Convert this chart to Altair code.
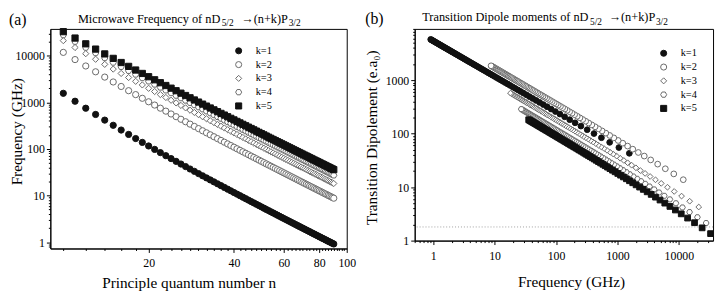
import altair as alt
import pandas as pd

SERIF = "Liberation Serif"

n_values = [10, 11, 12, 13, 14, 15, 16, 17, 18, 19, 20,
            21, 22, 23, 24, 25, 26, 27, 28, 29, 30,
            31, 32, 33, 34, 35, 36, 37, 38, 39, 40,
            41, 42, 43, 44, 45, 46, 47, 48, 49, 50,
            51, 52, 53, 54, 55, 56, 57, 58, 59, 60,
            61, 62, 63, 64, 65, 66, 67, 68, 69, 70,
            71, 72, 73, 74, 75, 76, 77, 78, 79, 80,
            81, 82, 83, 84, 85, 86, 87, 88, 89, 90]

freq_k1 = [1561, 1055, 747.1, 548.6, 414.9, 321.5, 254.2, 204.5, 167.0, 138.1, 115.6,
           97.68, 83.30, 71.62, 62.02, 54.07, 47.42, 41.82, 37.07, 33.01, 29.53,
           26.52, 23.90, 21.62, 19.62, 17.86, 16.30, 14.92, 13.69, 12.60, 11.61,
           10.73, 9.934, 9.215, 8.563, 7.972, 7.434, 6.944, 6.495, 6.084, 5.708,
           5.360, 5.041, 4.747, 4.475, 4.224, 3.992, 3.776, 3.575, 3.388, 3.214,
           3.052, 2.901, 2.759, 2.627, 2.503, 2.386, 2.277, 2.174, 2.077, 1.986,
           1.900, 1.820, 1.743, 1.671, 1.603, 1.538, 1.477, 1.419, 1.364, 1.312,
           1.262, 1.215, 1.171, 1.128, 1.088, 1.049, 1.012, 0.977, 0.944, 0.912]
freq_k2 = [11790, 8263, 6017, 4516, 3476, 2732, 2187, 1776, 1463, 1220, 1027,
           873.1, 748.4, 646.4, 562.1, 491.8, 432.8, 382.9, 340.4, 303.9, 272.5,
           245.2, 221.5, 200.7, 182.5, 166.4, 152.1, 139.4, 128.1, 118.0, 108.9,
           100.8, 93.39, 86.72, 80.67, 75.17, 70.16, 65.58, 61.39, 57.55, 54.03,
           50.79, 47.80, 45.04, 42.49, 40.13, 37.94, 35.91, 34.02, 32.26, 30.62,
           29.09, 27.66, 26.32, 25.07, 23.89, 22.79, 21.75, 20.78, 19.86, 19.00,
           18.18, 17.42, 16.69, 16.00, 15.35, 14.74, 14.16, 13.61, 13.08, 12.59,
           12.11, 11.67, 11.24, 10.83, 10.45, 10.08, 9.726, 9.390, 9.070, 8.764]
freq_k3 = [21050, 14995, 11061, 8394, 6520, 5166, 4163, 3404, 2819, 2361, 1997,
           1704, 1466, 1270, 1108, 971.8, 857.3, 760.1, 677.1, 605.7, 544.0,
           490.5, 443.7, 402.7, 366.6, 334.7, 306.4, 281.2, 258.7, 238.5, 220.4,
           204.0, 189.3, 175.9, 163.8, 152.7, 142.7, 133.5, 125.0, 117.3, 110.2,
           103.6, 97.58, 92.01, 86.85, 82.06, 77.62, 73.50, 69.67, 66.09, 62.76,
           59.64, 56.73, 54.01, 51.46, 49.06, 46.82, 44.70, 42.71, 40.84, 39.08,
           37.42, 35.85, 34.36, 32.96, 31.63, 30.38, 29.18, 28.05, 26.98, 25.96,
           24.99, 24.07, 23.20, 22.36, 21.57, 20.81, 20.09, 19.40, 18.74, 18.12]
freq_k4 = [27780, 20040, 14939, 11439, 8955, 7143, 5790, 4759, 3960, 3330, 2827,
           2421, 2089, 1815, 1587, 1396, 1234, 1097, 978.9, 877.3, 789.3,
           712.7, 645.7, 586.9, 535.0, 489.0, 448.2, 411.8, 379.2, 350.0, 323.7,
           299.9, 278.5, 259.1, 241.4, 225.2, 210.5, 197.1, 184.7, 173.4, 163.0,
           153.4, 144.6, 136.4, 128.8, 121.7, 115.2, 109.2, 103.5, 98.23, 93.31,
           88.72, 84.42, 80.40, 76.63, 73.09, 69.77, 66.64, 63.70, 60.93, 58.31,
           55.85, 53.52, 51.32, 49.24, 47.27, 45.40, 43.63, 41.95, 40.36, 38.84,
           37.40, 36.03, 34.73, 33.49, 32.31, 31.18, 30.10, 29.08, 28.10, 27.16]
freq_k5 = [32830, 23918, 17985, 13874, 10932, 8771, 7146, 5901, 4930, 4161, 3545,
           3045, 2635, 2295, 2012, 1773, 1571, 1399, 1251, 1123, 1012,
           914.7, 829.9, 755.2, 689.3, 630.8, 578.7, 532.3, 490.7, 453.2, 419.6,
           389.2, 361.6, 336.6, 313.9, 293.1, 274.2, 256.8, 240.9, 226.3, 212.8,
           200.4, 188.9, 178.3, 168.5, 159.3, 150.9, 143.0, 135.6, 128.8, 122.4,
           116.4, 110.8, 105.6, 100.7, 96.04, 91.70, 87.62, 83.78, 80.16, 76.75,
           73.52, 70.48, 67.59, 64.87, 62.29, 59.85, 57.53, 55.33, 53.24, 51.25,
           49.36, 47.57, 45.86, 44.23, 42.67, 41.19, 39.78, 38.43, 37.14, 35.91]

dip_k1 = [42.96, 55.13, 68.80, 84.00, 100.7, 118.9, 138.7, 159.9, 182.7, 206.9, 232.7,
          260.0, 288.8, 319.2, 351.0, 384.4, 419.2, 455.6, 493.5, 533.0, 573.9,
          616.3, 660.3, 705.8, 752.7, 801.2, 851.3, 902.8, 955.8, 1010, 1066,
          1124, 1183, 1244, 1306, 1370, 1435, 1501, 1570, 1639, 1710,
          1783, 1857, 1933, 2010, 2089, 2169, 2251, 2335, 2419, 2506,
          2594, 2683, 2774, 2866, 2960, 3056, 3153, 3251, 3351, 3453,
          3556, 3660, 3766, 3874, 3983, 4093, 4205, 4319, 4434, 4551,
          4669, 4788, 4910, 5032, 5157, 5282, 5409, 5538, 5668, 5800]
dip_k2 = [13.79, 17.70, 22.09, 26.96, 32.33, 38.17, 44.51, 51.33, 58.64, 66.43, 74.71,
          83.47, 92.72, 102.5, 112.7, 123.4, 134.6, 146.3, 158.4, 171.1, 184.2,
          197.8, 212.0, 226.6, 241.6, 257.2, 273.3, 289.8, 306.8, 324.3, 342.3,
          360.8, 379.8, 399.2, 419.2, 439.6, 460.5, 481.9, 503.8, 526.2, 549.0,
          572.4, 596.2, 620.5, 645.3, 670.6, 696.4, 722.7, 749.4, 776.6, 804.4,
          832.6, 861.3, 890.4, 920.1, 950.2, 980.9, 1012, 1044, 1076, 1108,
          1141, 1175, 1209, 1243, 1278, 1314, 1350, 1386, 1423, 1461,
          1499, 1537, 1576, 1615, 1655, 1696, 1736, 1778, 1820, 1862]
dip_k3 = [4.251, 5.455, 6.808, 8.311, 9.964, 11.77, 13.72, 15.82, 18.07, 20.47, 23.03,
          25.73, 28.58, 31.58, 34.73, 38.03, 41.48, 45.08, 48.83, 52.73, 56.78,
          60.98, 65.33, 69.83, 74.48, 79.28, 84.23, 89.32, 94.57, 99.97, 105.5,
          111.2, 117.1, 123.1, 129.2, 135.5, 142.0, 148.5, 155.3, 162.2, 169.2,
          176.4, 183.8, 191.3, 198.9, 206.7, 214.7, 222.7, 231.0, 239.4, 247.9,
          256.6, 265.5, 274.5, 283.6, 292.9, 302.3, 311.9, 321.7, 331.6, 341.6,
          351.8, 362.1, 372.6, 383.3, 394.1, 405.0, 416.1, 427.3, 438.7, 450.3,
          461.9, 473.8, 485.8, 497.9, 510.2, 522.6, 535.2, 548.0, 560.9, 573.9]
dip_k4 = [2.134, 2.738, 3.417, 4.172, 5.002, 5.907, 6.887, 7.942, 9.073, 10.28, 11.56,
          12.92, 14.35, 15.85, 17.43, 19.09, 20.82, 22.63, 24.51, 26.47, 28.50,
          30.61, 32.80, 35.05, 37.39, 39.80, 42.28, 44.84, 47.48, 50.18, 52.97,
          55.83, 58.77, 61.78, 64.86, 68.02, 71.26, 74.57, 77.96, 81.42, 84.96,
          88.57, 92.26, 96.02, 99.86, 103.8, 107.8, 111.8, 116.0, 120.2, 124.5,
          128.8, 133.3, 137.8, 142.4, 147.0, 151.8, 156.6, 161.5, 166.4, 171.5,
          176.6, 181.8, 187.1, 192.4, 197.8, 203.3, 208.9, 214.5, 220.2, 226.0,
          231.9, 237.8, 243.9, 250.0, 256.1, 262.4, 268.7, 275.1, 281.6, 288.1]
dip_k5 = [1.351, 1.733, 2.163, 2.641, 3.166, 3.739, 4.359, 5.027, 5.743, 6.506, 7.317,
          8.175, 9.081, 10.03, 11.04, 12.08, 13.18, 14.33, 15.52, 16.76, 18.04,
          19.38, 20.76, 22.19, 23.67, 25.19, 26.76, 28.38, 30.05, 31.77, 33.53,
          35.34, 37.20, 39.10, 41.06, 43.06, 45.11, 47.20, 49.35, 51.54, 53.78,
          56.06, 58.40, 60.78, 63.21, 65.68, 68.21, 70.78, 73.40, 76.07, 78.78,
          81.54, 84.35, 87.21, 90.12, 93.07, 96.07, 99.12, 102.2, 105.4, 108.5,
          111.8, 115.1, 118.4, 121.8, 125.2, 128.7, 132.2, 135.8, 139.4, 143.1,
          146.8, 150.5, 154.4, 158.2, 162.1, 166.1, 170.1, 174.1, 178.2, 182.4]

k_labels = ["k=1", "k=2", "k=3", "k=4", "k=5"]
freq_series = [freq_k1, freq_k2, freq_k3, freq_k4, freq_k5]
dip_series = [dip_k1, dip_k2, dip_k3, dip_k4, dip_k5]

HEX = "M-1,0L-0.5,-0.866L0.5,-0.866L1,0L0.5,0.866L-0.5,0.866Z"
shape_range = ["circle", "circle", "diamond", HEX, "square"]
fill_range = ["#111111", "#ffffff", "#ffffff", "#ffffff", "#111111"]
stroke_range = ["#111111", "#6a6a6a", "#6a6a6a", "#6a6a6a", "#111111"]

rows = []
for i, lab in enumerate(k_labels):
    for n, f, d in zip(n_values, freq_series[i], dip_series[i]):
        rows.append({"k": lab, "ki": i, "n": n, "freq": f, "dip": d})
df = pd.DataFrame(rows)

one = pd.DataFrame({"a": [0]})

decades = [0.1, 1, 10, 100, 1000, 10000]
minor_log = [m * d for d in decades for m in range(2, 10)]
left_y_major = [1, 10, 100, 1000, 10000]
left_y_minor = [v for v in minor_log if 0.73 <= v <= 37600]
left_x_major = [20, 40, 60, 80, 100]
left_x_minor = [v for v in range(10, 100, 2) if v not in left_x_major]
right_x_major = [1, 10, 100, 1000, 10000]
right_x_minor = [v for v in minor_log if 0.5 <= v <= 36000]
right_y_major = [1, 10, 100, 1000]
right_y_minor = [v for v in minor_log if 1 <= v <= 9120]


def shape_enc(legend):
    return dict(
        shape=alt.Shape("k:N", scale=alt.Scale(domain=k_labels, range=shape_range), legend=legend),
        fill=alt.Fill("k:N", scale=alt.Scale(domain=k_labels, range=fill_range), legend=legend),
        stroke=alt.Stroke("k:N", scale=alt.Scale(domain=k_labels, range=stroke_range), legend=legend),
    )


def legend_at(x, y):
    return alt.Legend(title=None, orient="none", legendX=x, legendY=y, padding=0,
                      symbolSize=38, symbolStrokeWidth=1, labelFont=SERIF, labelFontSize=10.5,
                      labelOffset=12, rowPadding=3, labelColor="#000")


def text(s, x, y, size, align="left", angle=0, baseline="alphabetic"):
    return alt.Chart(one).mark_text(text=s, align=align, baseline=baseline, font=SERIF,
                                    fontSize=size, color="#000", angle=angle).encode(
        x=alt.value(x), y=alt.value(y))


def major_x(values, pad):
    return alt.Axis(values=values, format="d", tickSize=4, labelPadding=pad, labelFlush=False,
                    title=None, orient="bottom")


def major_y(values):
    return alt.Axis(values=values, format="d", tickSize=4, labelPadding=2, labelFlush=False,
                    title=None, orient="left")


def minor_axis(values, orient):
    return alt.Axis(values=values, labels=False, domain=False, tickSize=2, title=None, orient=orient)


# ---------- panel (a) ----------
W1, H1 = 301, 223
xs1 = alt.Scale(type="log", domain=[9, 100], nice=False)
ys1 = alt.Scale(type="log", domain=[0.73, 37600], nice=False)

minor1 = alt.Chart(df).mark_point(opacity=0).encode(
    x=alt.X("n:Q", scale=xs1, axis=minor_axis(left_x_minor, "bottom")),
    y=alt.Y("freq:Q", scale=ys1, axis=minor_axis(left_y_minor, "left")),
)
pts1 = alt.Chart(df).mark_point(filled=True, size=40, strokeWidth=1, opacity=1).encode(
    x=alt.X("n:Q", scale=xs1, axis=major_x(left_x_major, 5)),
    y=alt.Y("freq:Q", scale=ys1, axis=major_y(left_y_major)),
    order=alt.Order("ki:Q"),
    **shape_enc(legend_at(186, 17)),
)
texts1 = [
    text("(a)", -42, -3.7, 16),
    text("Microwave Frequency of nD", 28, -6.2, 12.5),
    text("5/2", 174, -2.5, 9.5),
    text("\u2192(n+k)P", 194, -6.2, 12.5),
    text("3/2", 242, -2.5, 9.5),
    text("Frequency (GHz)", -34.25, 104.5, 15.5, align="center", angle=270, baseline="middle"),
    text("Principle quantum number n", 141, 258.5, 15.5, align="center", baseline="middle"),
]
left = alt.layer(minor1, pts1, *texts1).resolve_axis(x="independent", y="independent").properties(
    width=W1, height=H1)

# ---------- panel (b) ----------
W2, H2 = 303, 215
xs2 = alt.Scale(type="log", domain=[0.5, 36000], nice=False)
ys2 = alt.Scale(type="log", domain=[1, 9120], nice=False)

minor2 = alt.Chart(df).mark_point(opacity=0).encode(
    x=alt.X("freq:Q", scale=xs2, axis=minor_axis(right_x_minor, "bottom")),
    y=alt.Y("dip:Q", scale=ys2, axis=minor_axis(right_y_minor, "left")),
)
dotted = alt.Chart(one).mark_rule(color="#888888", strokeWidth=0.8, strokeDash=[1, 2]).encode(
    y=alt.YDatum(1.8, type="quantitative", scale=ys2, axis=None))
pts2 = alt.Chart(df).mark_point(filled=True, size=34, strokeWidth=1, opacity=1).encode(
    x=alt.X("freq:Q", scale=xs2, axis=major_x(right_x_major, 6)),
    y=alt.Y("dip:Q", scale=ys2, axis=major_y(right_y_major)),
    order=alt.Order("ki:Q"),
    **shape_enc(legend_at(247.6, 19.5)),
)
texts2 = [
    text("(b)", -50.3, -5.2, 16),
    text("Transition Dipole moments of nD", 7.7, -7.7, 12.5),
    text("5/2", 178, -4, 9.5),
    text("\u2192(n+k)P", 197, -7.7, 12.5),
    text("3/2", 245, -4, 9.5),
    text("Transition Dipolement (e.a\u2080)", -43.3, 110.5, 15.5, align="center", angle=270,
         baseline="middle"),
    text("Frequency (GHz)", 159.2, 257.5, 15.5, align="center", baseline="middle"),
]
right = alt.layer(minor2, dotted, pts2, *texts2).resolve_axis(x="independent", y="independent").properties(
    width=W2, height=H2)

chart = alt.hconcat(left, right, spacing=8).resolve_scale(
    shape="independent", fill="independent", stroke="independent").properties(padding=0).configure_view(
    stroke="#000000", strokeWidth=1).configure_axis(
    domainColor="#000000", tickColor="#000000", labelColor="#000000", titleColor="#000000",
    labelFont=SERIF, labelFontSize=12, titleFont=SERIF, titleFontSize=14,
    titleFontWeight="normal", grid=False).configure_legend(labelFont=SERIF)

chart.save("out.html", embed_options={"renderer": "svg", "actions": False})
